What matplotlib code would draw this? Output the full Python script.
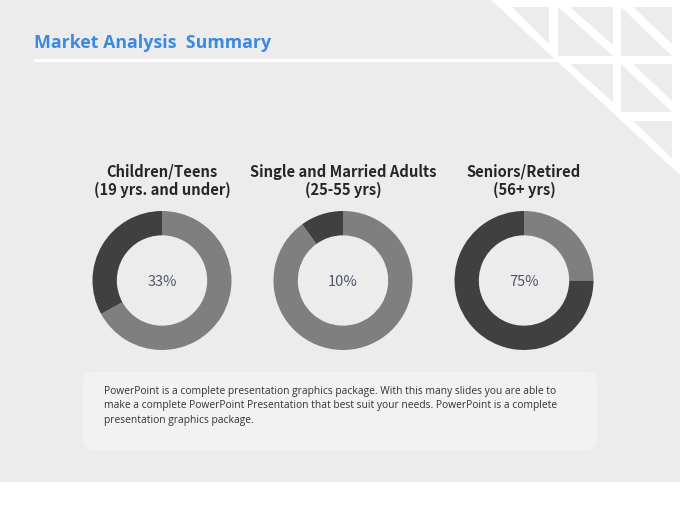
import numpy as np
import matplotlib
matplotlib.use('Agg')
import matplotlib.pyplot as plt
from matplotlib import font_manager
from matplotlib.patches import Rectangle, Polygon, FancyBboxPatch

W, H = 680, 510

# chart data
groups = ['Children/Teens\n(19 yrs. and under)',
          'Single and Married Adults\n(25-55 yrs)',
          'Seniors/Retired\n(56+ yrs)']
shares = [33, 10, 75]
title = 'Market Analysis  Summary'
body = ('PowerPoint is a complete presentation graphics package. With this many slides you are able to\n'
        'make a complete PowerPoint Presentation that best suit your needs. PowerPoint is a complete\n'
        'presentation graphics package.')

BG = '#ececec'
DARK = '#404040'
LIGHT = '#7f7f7f'
BLUE = '#3b89e0'

names = {f.name for f in font_manager.fontManager.ttflist}
LABEL_FONT = ['Noto Sans CJK KR', 'DejaVu Sans']
BODY_FONT = 'Liberation Sans Narrow' if 'Liberation Sans Narrow' in names else 'Open Sans'


def draw_background(ax):
    ax.add_patch(Rectangle((0, 0), W, 483, color=BG, lw=0))
    # title underline
    ax.add_patch(Rectangle((34, 60), 540, 3, color='white', lw=0))
    # white corner triangle with grid of gray triangles
    ax.add_patch(Polygon([(490, 0), (W, 0), (W, 176)], color='white', lw=0))
    cols = [(500, 549), (558, 613), (621, 672)]
    rows = [(8, 57), (65, 113), (122, 170)]
    s = 12
    for r, (y0, y1) in enumerate(rows):
        for c, (x0, x1) in enumerate(cols):
            if c < r:
                continue
            k = (y1 - y0) / (x1 - x0)
            ax.add_patch(Polygon([(x0 + s, y0), (x1, y0), (x1, y1 - s * k)], color=BG, lw=0))
            if c > r:
                ax.add_patch(Polygon([(x0, y0), (x0, y1), (x1, y1)], color=BG, lw=0))
    # text box
    ax.add_patch(FancyBboxPatch((83, 373), 514, 78, boxstyle='round,pad=0,rounding_size=10',
                                fc='#f2f2f2', ec='none'))


def draw_donut(fig, cx, cy, r, p):
    ax = fig.add_axes([(cx - r) / W, (H - cy - r) / H, 2 * r / W, 2 * r / H])
    ax.patch.set_alpha(0)
    ax.pie([100 - p, p], colors=[LIGHT, DARK], startangle=90, counterclock=False,
           radius=1, wedgeprops=dict(width=0.35, linewidth=0))
    ax.set_xlim(-1, 1)
    ax.set_ylim(-1, 1)
    ax.set_aspect('equal')
    ax.axis('off')
    ax.text(0, 0, '{}%'.format(p), ha='center', va='center', fontsize=10.5,
            color='#4f576b', family=LABEL_FONT)


def main():
    fig = plt.figure(figsize=(W / 100, H / 100), dpi=100)
    fig.patch.set_facecolor('white')
    ax = fig.add_axes([0, 0, 1, 1])
    ax.set_xlim(0, W)
    ax.set_ylim(H, 0)
    ax.axis('off')
    draw_background(ax)

    ax.text(34, 48.5, title, fontsize=12.8, fontweight='bold', color=BLUE,
            family='Open Sans', va='baseline', ha='left')

    centers = [162, 343, 524]
    for cx, label, p in zip(centers, groups, shares):
        ax.text(cx, 181, label, ha='center', va='center', fontsize=10.6, fontweight='bold',
                color='#262626', family=LABEL_FONT, linespacing=1.18)
        draw_donut(fig, cx, 281.5, 69.5, p)

    t = ax.text(104, 406, body, ha='left', va='center', fontsize=9, color='#333333',
                family=BODY_FONT, linespacing=1.45)
    first = ax.text(104, 391, body.split('\n')[0], fontsize=9, family=BODY_FONT, alpha=0)
    fig.canvas.draw()
    w = first.get_window_extent(fig.canvas.get_renderer()).width
    t.set_fontsize(9 * 453 / w)
    first.remove()

    fig.savefig('out.png', dpi=100, facecolor='white')


if __name__ == '__main__':
    main()
